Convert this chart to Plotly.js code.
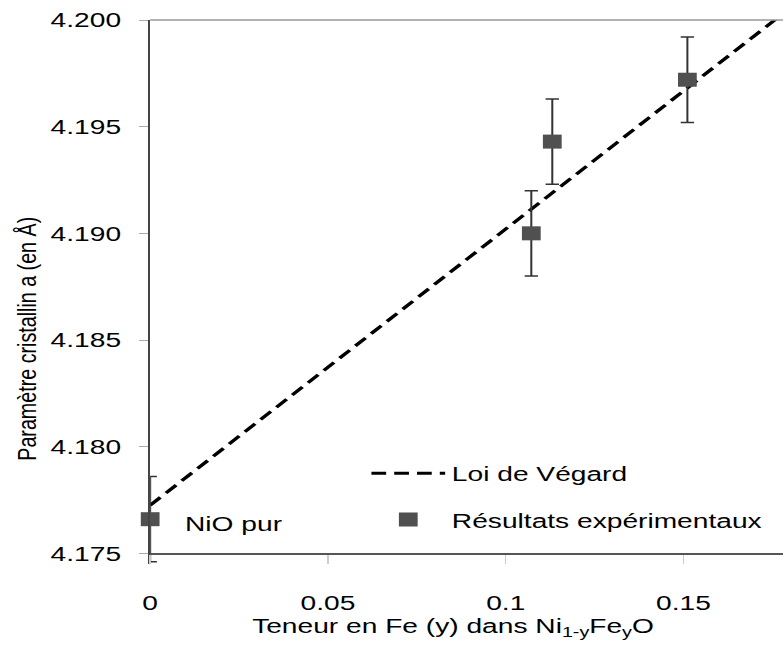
<!DOCTYPE html>
<html>
<head>
<meta charset="utf-8">
<script src="https://cdn.plot.ly/plotly-3.0.1.min.js"></script>
<style>
html,body{margin:0;padding:0;background:#fff;overflow:hidden;}
#wrap{width:783px;height:650px;overflow:hidden;}
#chart{width:584px;height:650px;transform-origin:0 0;}
</style>
</head>
<body>
<div id="wrap"><div id="chart"></div></div>
<script>
// Data
var expX = [0, 0.1072, 0.1131, 0.1511];
var expY = [4.1766, 4.1900, 4.1943, 4.1972];
var expErr = [0.002, 0.002, 0.002, 0.002];
var vegardX = [0, 0.178];
var vegardY = [4.17725, 4.2003];
var xTicks = [0, 0.05, 0.1, 0.15];
var xTickLabels = ['0', '0.05', '0.1', '0.15'];
var yTicks = [4.175, 4.180, 4.185, 4.190, 4.195, 4.200];
var yTickLabels = ['4.175', '4.180', '4.185', '4.190', '4.195', '4.200'];

var FONT = 'Liberation Sans, Arial, sans-serif';
var FS = 21;

var traces = [
  {
    x: vegardX, y: vegardY, mode: 'lines', name: 'Loi de Végard',
    legendgroup: 'a',
    line: {color: '#000', width: 3, dash: '11px,6px'}
  },
  {
    x: expX, y: expY, mode: 'markers', name: 'Résultats expérimentaux',
    legendgroup: 'b',
    marker: {symbol: 'square', size: 14, color: '#505050'},
    error_y: {type: 'data', array: expErr, visible: true, color: '#333', thickness: 1.5, width: 5},
    cliponaxis: false
  }
];

var layout = {
  width: 584, height: 650,
  margin: {l: 112, r: 0, t: 20, b: 86},
  paper_bgcolor: '#fff', plot_bgcolor: '#fff',
  font: {family: FONT, size: FS, color: '#000'},
  showlegend: true,
  legend: {
    x: 0.339, y: 0.204, xanchor: 'left', yanchor: 'top',
    bgcolor: 'rgba(0,0,0,0)', borderwidth: 0,
    itemwidth: 55,
    font: {family: FONT, size: FS, color: '#000'},
    traceorder: 'grouped', tracegroupgap: 16
  },
  xaxis: {
    range: [0, 0.178],
    anchor: 'free', position: 0.0196,
    tickvals: xTicks, ticktext: xTickLabels,
    showgrid: false, zeroline: false,
    showline: true, linecolor: '#555', linewidth: 1.5,
    ticks: 'outside', ticklen: 9, tickcolor: '#ccc', tickwidth: 1,
    ticklabelstandoff: 21,
    tickfont: {family: FONT, size: FS, color: '#000'}
  },
  yaxis: {
    range: [4.1745, 4.200],
    tickvals: yTicks, ticktext: yTickLabels,
    showgrid: false, zeroline: false,
    showline: true, linecolor: '#444', linewidth: 1.5,
    ticks: 'outside', ticklen: 7, tickcolor: '#aaa', tickwidth: 1,
    ticklabelstandoff: 9,
    tickfont: {family: FONT, size: FS, color: '#000'}
  },
  shapes: [
    {type: 'line', xref: 'paper', yref: 'paper', x0: 0, x1: 1, y0: 1, y1: 1,
     line: {color: '#999', width: 1.5}}
  ],
  annotations: [
    {x: 0.0091, y: 4.1764, xref: 'x', yref: 'y', xanchor: 'left', yanchor: 'middle',
     text: 'NiO pur', showarrow: false, font: {family: FONT, size: FS, color: '#000'}},
    {x: 0.479, y: -0.116, xref: 'paper', yref: 'paper', xanchor: 'center', yanchor: 'middle',
     text: 'Teneur en Fe (y) dans Ni<sub>1-y</sub>Fe<sub>y</sub>O', showarrow: false,
     font: {family: FONT, size: FS, color: '#000'}},
    {x: -0.195, y: 0.414, xref: 'paper', yref: 'paper', xanchor: 'center', yanchor: 'middle',
     textangle: -90, text: 'Paramètre cristallin a (en Å)', showarrow: false,
     font: {family: FONT, size: 19.7, color: '#000'}}
  ]
};

var chartDiv = document.getElementById('chart');
Plotly.newPlot(chartDiv, traces, layout, {displayModeBar: false, staticPlot: true}).then(function () {
  // the reference picture is stretched horizontally; stretch the finished drawing the same way
  chartDiv.style.transform = 'scaleX(1.3408)';
});
</script>
</body>
</html>
